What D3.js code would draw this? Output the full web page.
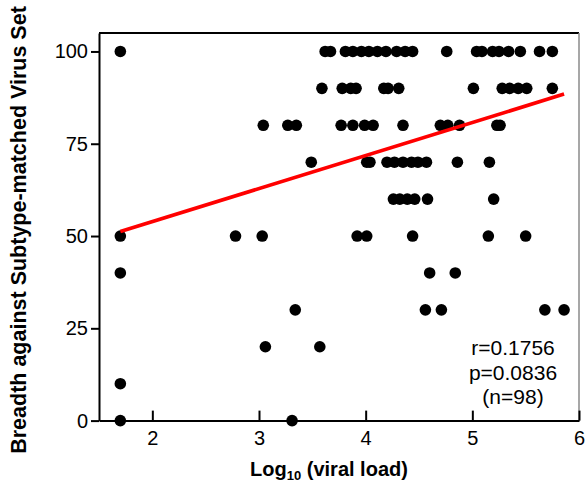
<!DOCTYPE html>
<html>
<head>
<meta charset="utf-8">
<script src="https://cdn.jsdelivr.net/npm/d3@7/dist/d3.min.js"></script>
<style>
  html, body { margin: 0; padding: 0; background: #fff; }
  svg { display: block; font-family: "Liberation Sans", Arial, Helvetica, sans-serif; }
</style>
</head>
<body>
<svg id="chart" width="587" height="487"></svg>
<script>
// Log10 viral load and breadth (%) for each subject, listed by breadth level
const logViralLoad = [
  // breadth 100
  1.70, 3.62, 3.67, 3.81, 3.88, 3.96, 4.03, 4.11, 4.19, 4.29, 4.37, 4.44,
  4.76, 5.04, 5.09, 5.19, 5.25, 5.34, 5.45, 5.63, 5.75,
  // breadth 90
  3.59, 3.78, 3.86, 3.91, 4.17, 4.21, 4.31, 5.01, 5.28, 5.35, 5.43, 5.51, 5.75,
  // breadth 80
  3.04, 3.27, 3.35, 3.77, 3.88, 3.99, 4.07, 4.35, 4.70, 4.77, 4.88, 5.23, 5.26,
  // breadth 70
  3.49, 4.01, 4.04, 4.20, 4.27, 4.35, 4.43, 4.49, 4.57, 4.86, 5.16,
  // breadth 60
  4.26, 4.32, 4.39, 4.46, 4.58, 5.20,
  // breadth 50
  1.70, 2.78, 3.03, 3.92, 4.01, 4.44, 5.15, 5.50,
  // breadth 40
  1.70, 4.60, 4.84,
  // breadth 30
  3.34, 4.56, 4.71, 5.68, 5.86,
  // breadth 20
  3.06, 3.57,
  // breadth 10
  1.70,
  // breadth 0
  1.70, 3.31
];
const breadth = [
  100, 100, 100, 100, 100, 100, 100, 100, 100, 100, 100, 100,
  100, 100, 100, 100, 100, 100, 100, 100, 100,
  90, 90, 90, 90, 90, 90, 90, 90, 90, 90, 90, 90, 90,
  80, 80, 80, 80, 80, 80, 80, 80, 80, 80, 80, 80, 80,
  70, 70, 70, 70, 70, 70, 70, 70, 70, 70, 70,
  60, 60, 60, 60, 60, 60,
  50, 50, 50, 50, 50, 50, 50, 50,
  40, 40, 40,
  30, 30, 30, 30, 30,
  20, 20,
  10,
  0, 0
];

const xTicks = [2, 3, 4, 5, 6];
const yTicks = [0, 25, 50, 75, 100];

// Linear regression reported for the full cohort
const fitIntercept = 36.0;
const fitSlope = 8.95;
const statLines = ["r=0.1756", "p=0.0836", "(n=98)"];

const svg = d3.select("#chart");
const plotLeft = 99, plotRight = 579, plotTop = 33, plotBottom = 420.6;

const x = d3.scaleLinear().domain([1.5, 6]).range([plotLeft, plotRight]);
const y = d3.scaleLinear().domain([0, 105]).range([plotBottom, plotTop]);

// frame: top and right edges
svg.append("line")
  .attr("x1", plotLeft).attr("x2", plotRight)
  .attr("y1", plotTop).attr("y2", plotTop)
  .attr("stroke", "#000").attr("stroke-width", 2);
svg.append("line")
  .attr("x1", plotRight).attr("x2", plotRight)
  .attr("y1", plotTop).attr("y2", plotBottom)
  .attr("stroke", "#8a8a8a").attr("stroke-width", 1.5);

// x axis with ticks pointing into the plot
const xAxis = svg.append("g")
  .attr("transform", `translate(0,${plotBottom})`)
  .call(d3.axisBottom(x).tickValues(xTicks).tickFormat(d3.format("d"))
    .tickSizeInner(-10).tickSizeOuter(0).tickPadding(10));
xAxis.select(".domain").attr("stroke-width", 2);
xAxis.selectAll(".tick line").attr("stroke-width", 2);
xAxis.selectAll(".tick text")
  .attr("font-size", 20).attr("fill", "#000")
  .attr("font-family", "'Liberation Sans', Arial, sans-serif");

// y axis with outward ticks
const yAxis = svg.append("g")
  .attr("transform", `translate(${plotLeft},0)`)
  .call(d3.axisLeft(y).tickValues(yTicks).tickFormat(d3.format("d"))
    .tickSizeInner(8).tickSizeOuter(0).tickPadding(3));
yAxis.select(".domain").attr("stroke-width", 2);
yAxis.selectAll(".tick line").attr("stroke-width", 2);
yAxis.selectAll(".tick text")
  .attr("font-size", 20).attr("fill", "#000")
  .attr("font-family", "'Liberation Sans', Arial, sans-serif");

// data points
const points = logViralLoad.map((v, i) => ({ load: v, breadth: breadth[i] }));
svg.append("g")
  .selectAll("circle")
  .data(points)
  .join("circle")
  .attr("cx", d => x(d.load))
  .attr("cy", d => y(d.breadth))
  .attr("r", 5.8)
  .attr("fill", "#000");

// regression line across the observed range
const loadExtent = d3.extent(logViralLoad);
const fitLine = loadExtent.map(v => ({ load: v, breadth: fitIntercept + fitSlope * v }));
svg.append("path")
  .datum(fitLine)
  .attr("fill", "none")
  .attr("stroke", "#ff0000")
  .attr("stroke-width", 3.7)
  .attr("d", d3.line().x(d => x(d.load)).y(d => y(d.breadth)));

// correlation statistics
svg.append("g")
  .selectAll("text")
  .data(statLines)
  .join("text")
  .attr("x", 513)
  .attr("y", (d, i) => 355 + i * 24.5)
  .attr("text-anchor", "middle")
  .attr("font-size", 21)
  .attr("fill", "#000")
  .text(d => d);

// axis titles
const xTitle = svg.append("text")
  .attr("x", 329)
  .attr("y", 476)
  .attr("text-anchor", "middle")
  .attr("font-size", 20)
  .attr("font-weight", "bold");
xTitle.append("tspan").text("Log");
xTitle.append("tspan").attr("font-size", 13).attr("dy", 4).text("10");
xTitle.append("tspan").attr("dy", -4).text(" (viral load)");

svg.append("text")
  .attr("transform", "translate(26,230) rotate(-90)")
  .attr("text-anchor", "middle")
  .attr("font-size", 21.5)
  .attr("font-weight", "bold")
  .text("Breadth against Subtype-matched Virus Set");
</script>
</body>
</html>
